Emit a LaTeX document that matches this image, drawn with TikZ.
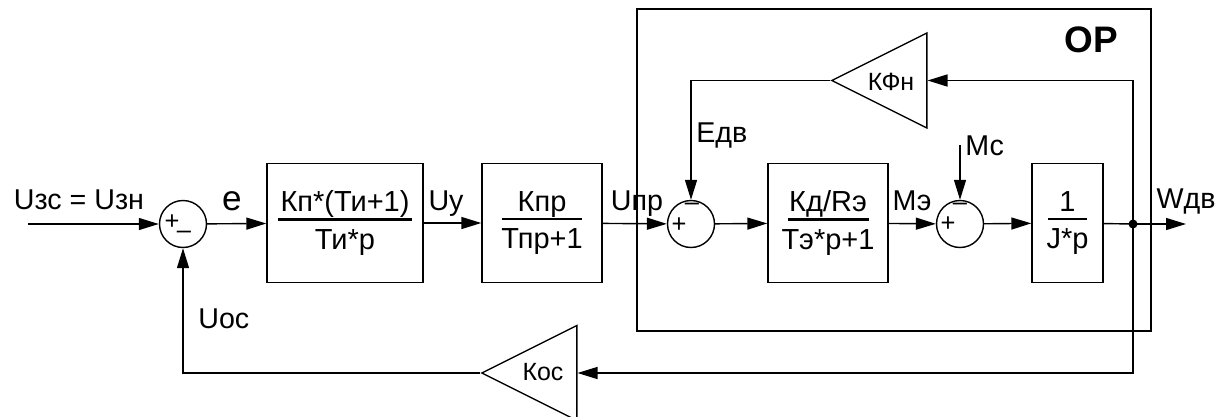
\documentclass[tikz,border=0pt]{standalone}
\usepackage{fontspec}
\setmainfont{Liberation Sans}
\usetikzlibrary{arrows.meta,shapes.geometric}
\tikzset{
  tfblock/.style={draw,line width=0.8pt,minimum height=2.38cm,inner sep=0pt,
                  align=center,font=\fontsize{16.5}{19}\selectfont},
  sumnode/.style={draw,circle,line width=0.8pt,minimum size=0.94cm,inner sep=0pt},
  gain/.style={draw,line width=0.8pt,isosceles triangle,shape border rotate=180,
               isosceles triangle stretches,minimum width=1.9cm,
               minimum height=1.9cm,inner sep=0pt,anchor=apex},
  sig/.style={-{Triangle[length=0.4cm,width=0.24cm]},line width=0.8pt},
  wire/.style={line width=0.8pt},
  lbl/.style={inner sep=0pt,anchor=base,font=\fontsize{16.3}{19}\selectfont},
  gainlbl/.style={inner sep=0pt,anchor=base,font=\fontsize{14.2}{16}\selectfont},
  sumsign/.style={inner sep=0pt,font=\fontsize{14.5}{15}\selectfont}
}
\newcommand\blockfr[3]{#2\\[-13.8pt]\rule{#1}{1.3pt}\\[-2.7pt]#3}

\begin{document}
\begin{tikzpicture}[x=0.02cm,y=-0.02cm]
  \useasboundingbox (0,0) rectangle (1229,416);
  \node[draw,line width=0.8pt,minimum width=10.28cm,minimum height=6.44cm,
        inner sep=0pt] (op) at (894,170) {};
  \node[lbl,font=\fontsize{21}{24}\selectfont\bfseries] (oplbl) at (1091,52) {ОР};

  \coordinate (in) at (28,224);
  \node[sumnode] (s1) at (183,224) {};
  \node[tfblock,minimum width=3.12cm] (b1) at (345,223)
    {\blockfr{2.7cm}{Кп*(Ти+1)}{Ти*р}};
  \node[tfblock,minimum width=2.4cm] (b2) at (542,223)
    {\blockfr{1.6cm}{Кпр}{Тпр+1}};
  \node[sumnode] (s2) at (691,224) {};
  \node[tfblock,minimum width=2.4cm] (b3) at (828,223)
    {\blockfr{1.62cm}{Кд/Rэ}{Тэ*р+1}};
  \node[sumnode] (s3) at (960,224) {};
  \node[tfblock,minimum width=1.42cm] (b4) at (1067.5,223)
    {\blockfr{0.78cm}{1}{J*р}};
  \coordinate (j) at (1133,224);
  \coordinate (out) at (1186,224);
  \coordinate (mc) at (960,145);
  \node[gain] (kfn) at (830,80.5) {};
  \node[gain] (koc) at (480,373) {};

  \node[sumsign] (s1p) at (172,222) {+};
  \node[sumsign] (s1m) at (184,235) {–};
  \node[sumsign] (s2p) at (679,225) {+};
  \node[sumsign] (s2m) at (692,207) {–};
  \node[sumsign] (s3p) at (948,224) {+};
  \node[sumsign] (s3m) at (960,207) {–};

  \node[lbl] (uzs) at (79,209) {Uзс = Uзн};
  \node[lbl,font=\fontsize{20}{22}\selectfont] (elbl) at (232,210) {e};
  \node[lbl] (uu) at (446,210) {Uу};
  \node[lbl] (upr) at (637,210) {Uпр};
  \node[lbl] (me) at (912,210) {Мэ};
  \node[lbl] (wdv) at (1186,208) {Wдв};
  \node[lbl,anchor=base west] (mclbl) at (965,155) {Мс};
  \node[lbl,anchor=base west] (edv) at (696,142) {Едв};
  \node[lbl,anchor=base west] (uos) at (198,328) {Uос};
  \node[gainlbl] (kfnlbl) at (891,90) {КФн};
  \node[gainlbl] (koclbl) at (543,380) {Кос};

  \draw[sig] (in) -- (s1);
  \draw[sig] (s1) -- (b1);
  \draw[sig] (b1) -- (b2);
  \draw[sig] (b2) -- (s2);
  \draw[sig] (s2) -- (b3);
  \draw[sig] (b3) -- (s3);
  \draw[sig] (s3) -- (b4);
  \draw[wire] (b4) -- (j);
  \draw[sig] (j) -- (out);
  \draw[sig] (mc) -- (s3);
  \draw[sig] (j) |- (kfn.lower side);
  \draw[sig] (kfn.apex) -| (s2);
  \draw[sig] (j) |- (koc.lower side);
  \draw[sig] (koc.apex) -| (s1);
  \fill (j) circle[radius=0.09cm];
\end{tikzpicture}
\end{document}
